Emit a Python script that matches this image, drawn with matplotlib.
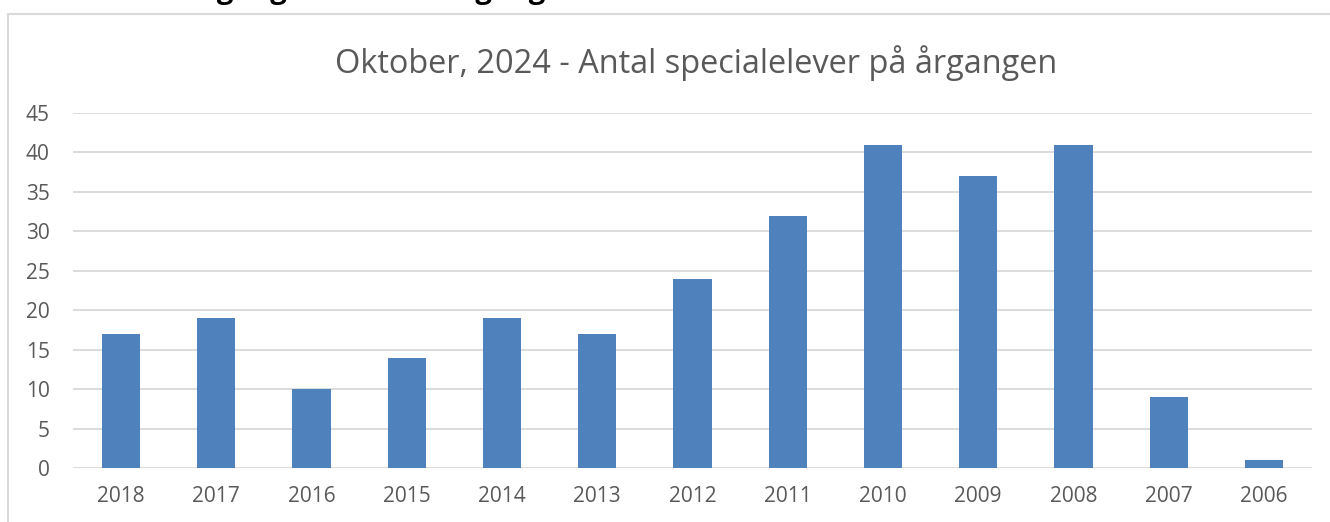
import matplotlib
matplotlib.use("Agg")
import matplotlib.pyplot as plt
from matplotlib.patches import Rectangle

categories = ["2018", "2017", "2016", "2015", "2014", "2013", "2012",
              "2011", "2010", "2009", "2008", "2007", "2006"]
values = [17, 19, 10, 14, 19, 17, 24, 32, 41, 37, 41, 9, 1]
yticks = [0, 5, 10, 15, 20, 25, 30, 35, 40, 45]
title = "Oktober, 2024 - Antal specialelever på årgangen"
heading = "Tilgang af elever i årgange"

plt.rcParams['font.family'] = ['Open Sans', 'DejaVu Sans']

fig = plt.figure(figsize=(13.3, 5.22), dpi=100)
fig.patch.set_facecolor("white")

# chart frame
fig.patches.append(Rectangle((8/1330, -0.1), 1.2, 1 - 13.5/522 + 0.1,
                             transform=fig.transFigure, fill=False,
                             edgecolor="#d9d9d9", linewidth=1.5))

# cropped heading above the chart (only descenders visible)
fig.text(182/1330, 1 + 2/522, heading, fontsize=21, fontweight="bold",
         color="black", ha="left", va="baseline")

ax = fig.add_axes([73.4/1330, 1 - 468/522, (1311.6 - 73.4)/1330, (468 - 113)/522])
x = range(len(categories))
ax.bar(x, values, width=0.4, color="#4f81bd", zorder=3)
ax.set_xlim(-0.5, len(categories) - 0.5)
ax.set_ylim(0, 45)
ax.set_yticks(yticks)
ax.set_xticks(list(x))
ax.set_xticklabels(categories)
ax.grid(axis="y", color="#d9d9d9", linewidth=1.3, zorder=0)
for s in ax.spines.values():
    s.set_visible(False)
ax.tick_params(axis="both", length=0, labelsize=15, colors="#595959")
ax.tick_params(axis="y", pad=17)
ax.tick_params(axis="x", pad=13)
for lbl in ax.get_yticklabels():
    lbl.set_horizontalalignment("right")

fig.text(696/1330, 1 - 63/522, title, fontsize=23.4, color="#595959",
         ha="center", va="center")

fig.savefig("out.png", dpi=100, facecolor="white")
